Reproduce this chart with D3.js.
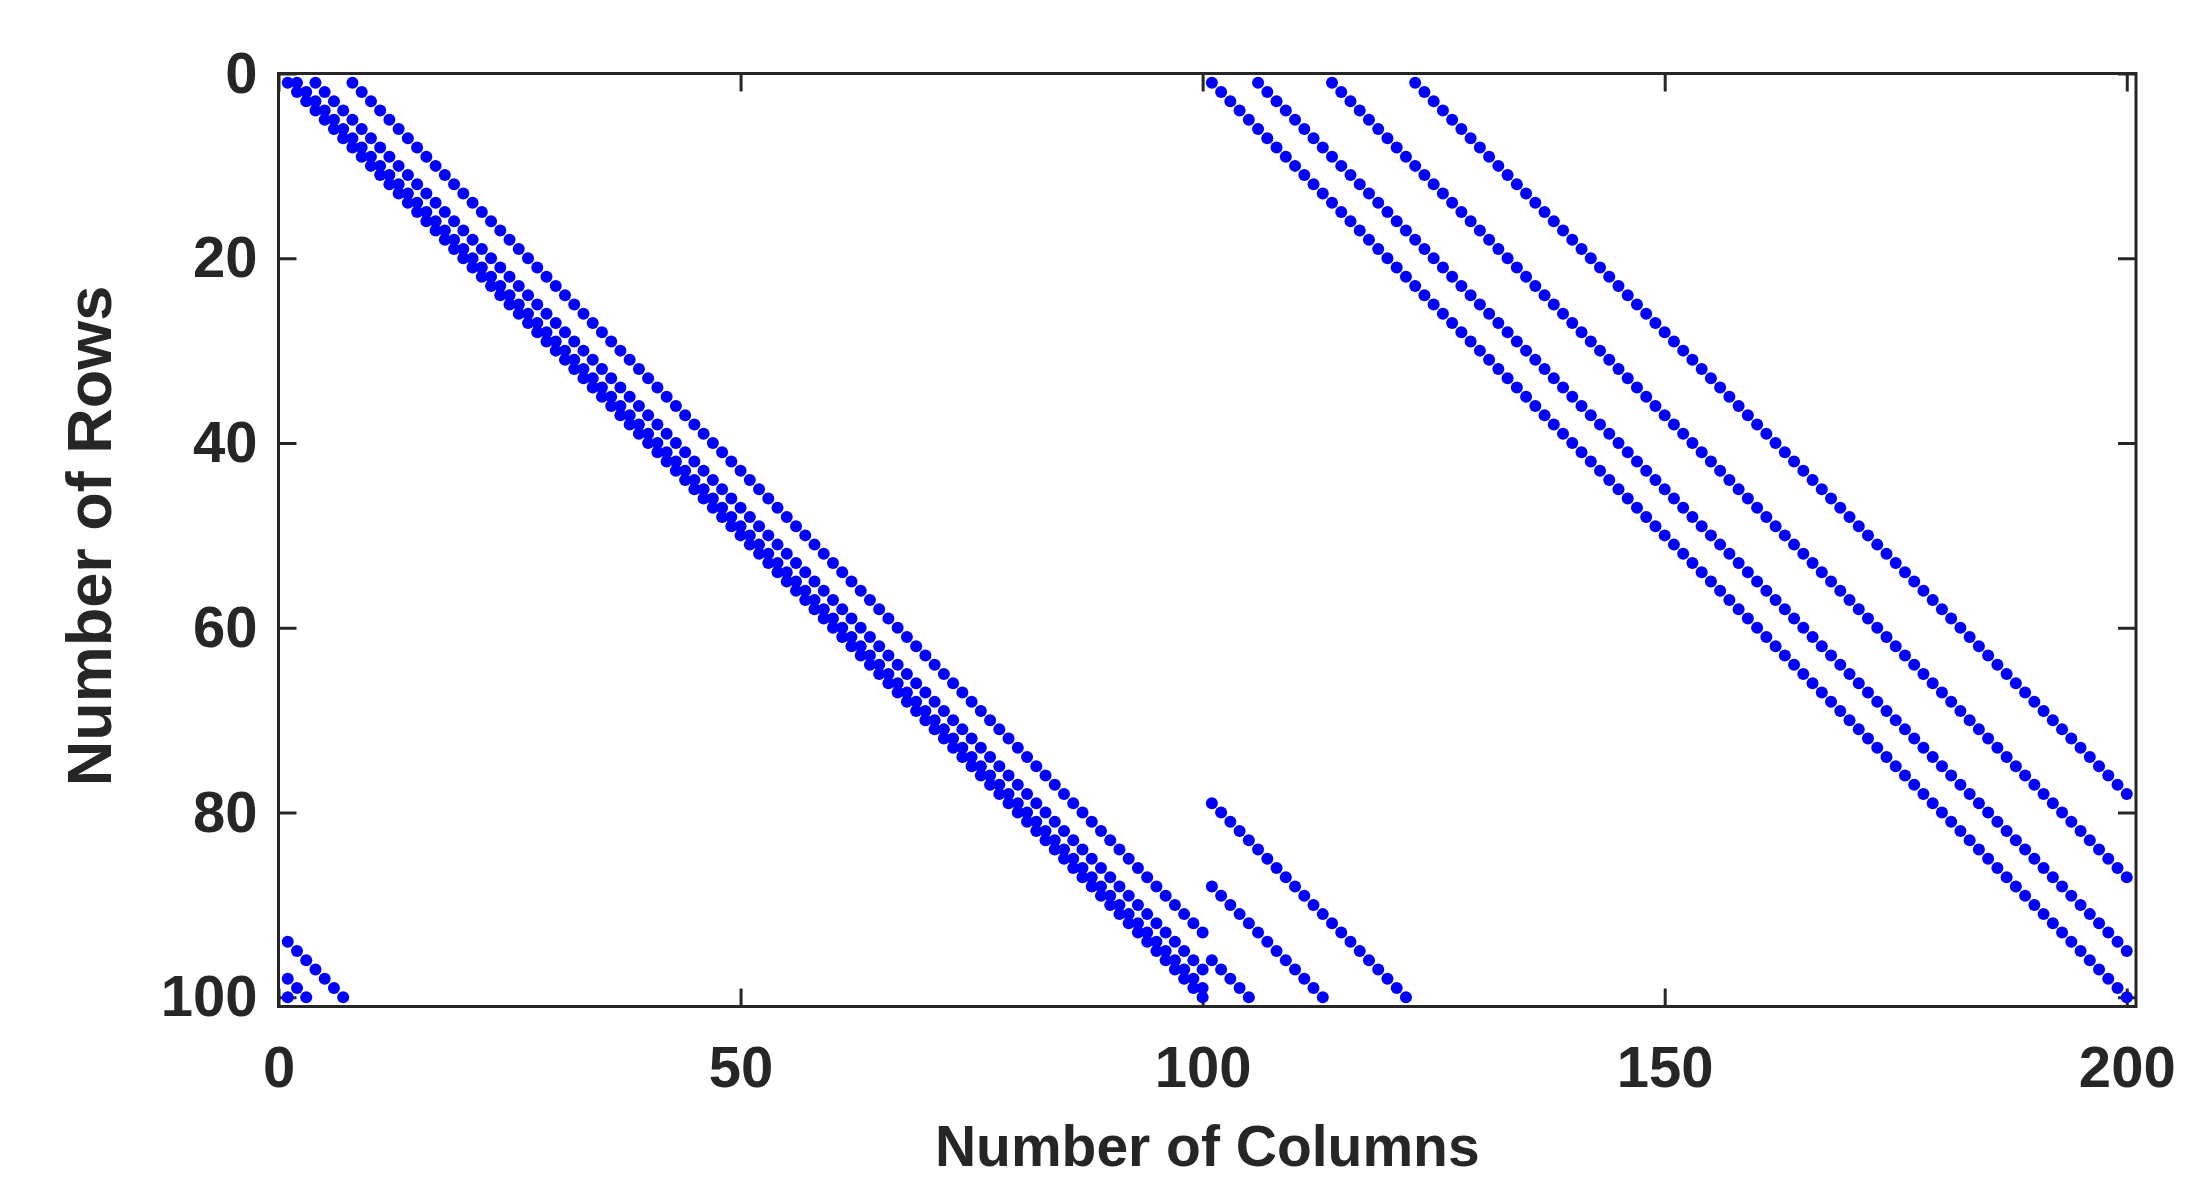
<!DOCTYPE html>
<html>
<head>
<meta charset="utf-8">
<script src="https://cdn.jsdelivr.net/npm/d3@7"></script>
<style>
  body { margin: 0; background: #fff; }
  svg text { font-family: "Liberation Sans", Arial, sans-serif; font-weight: bold; fill: #262626; }
</style>
</head>
<body>
<svg id="chart" width="2204" height="1195"></svg>
<script>
// sparsity pattern: 100 x 200, two circulant 100x100 blocks
const nRows = 100;
const blockSize = 100;
const blockStarts = [0, 100];              // column offset of each block
const leftBlockShifts = [0, 1, 3, 7];      // diagonals in columns 1..100
const rightBlockShifts = [0, 5, 13, 22];   // diagonals in columns 101..200
const xTicks = [0, 50, 100, 150, 200];
const yTicks = [0, 20, 40, 60, 80, 100];
const xTitle = "Number of Columns";
const yTitle = "Number of Rows";

const nonzeros = [];
[leftBlockShifts, rightBlockShifts].forEach((shifts, b) => {
    shifts.forEach(s => {
        for (let i = 1; i <= nRows; i++) {
            nonzeros.push({ row: i, col: blockStarts[b] + ((i - 1 + s) % blockSize) + 1 });
        }
    });
});

const svg = d3.select('#chart');
const plotLeft = 278.5, plotRight = 2136, plotTop = 73.5, plotBottom = 1006.5;
const axisColor = '#262626';
const fontSize = 58;

const x = d3.scaleLinear().domain([0, 201]).range([plotLeft, plotRight]);
const y = d3.scaleLinear().domain([0, 101]).range([plotTop, plotBottom]);

function styleAxis(g) {
    g.select('.domain').remove();
    g.selectAll('.tick line').attr('stroke', axisColor).attr('stroke-width', 3);
    g.selectAll('.tick text').attr('fill', axisColor).style('font-size', fontSize + 'px');
}

svg.append('g')
    .attr('transform', `translate(0,${plotBottom})`)
    .call(d3.axisBottom(x).tickValues(xTicks).tickSizeInner(-18).tickSizeOuter(0).tickPadding(39))
    .call(styleAxis);

svg.append('g')
    .attr('transform', `translate(0,${plotTop})`)
    .call(d3.axisTop(x).tickValues(xTicks).tickSizeInner(-18).tickSizeOuter(0).tickFormat(''))
    .call(styleAxis);

svg.append('g')
    .attr('transform', `translate(${plotLeft},0)`)
    .call(d3.axisLeft(y).tickValues(yTicks).tickSizeInner(-18).tickSizeOuter(0).tickPadding(21))
    .call(styleAxis);

svg.append('g')
    .attr('transform', `translate(${plotRight},0)`)
    .call(d3.axisRight(y).tickValues(yTicks).tickSizeInner(-18).tickSizeOuter(0).tickFormat(''))
    .call(styleAxis);

// dots
svg.append('g')
    .selectAll('circle')
    .data(nonzeros)
    .enter()
    .append('circle')
    .attr('cx', d => x(d.col))
    .attr('cy', d => y(d.row))
    .attr('r', 6)
    .attr('fill', '#0000ff');

// box
svg.append('rect')
    .attr('x', plotLeft)
    .attr('y', plotTop)
    .attr('width', plotRight - plotLeft)
    .attr('height', plotBottom - plotTop)
    .attr('fill', 'none')
    .attr('stroke', axisColor)
    .attr('stroke-width', 3);

svg.append('text')
    .attr('x', (plotLeft + plotRight) / 2)
    .attr('y', 1166)
    .attr('text-anchor', 'middle')
    .style('font-size', '57px')
    .text(xTitle);

svg.append('text')
    .attr('transform', `translate(111,536) rotate(-90)`)
    .attr('text-anchor', 'middle')
    .style('font-size', '63px')
    .text(yTitle);
</script>
</body>
</html>
